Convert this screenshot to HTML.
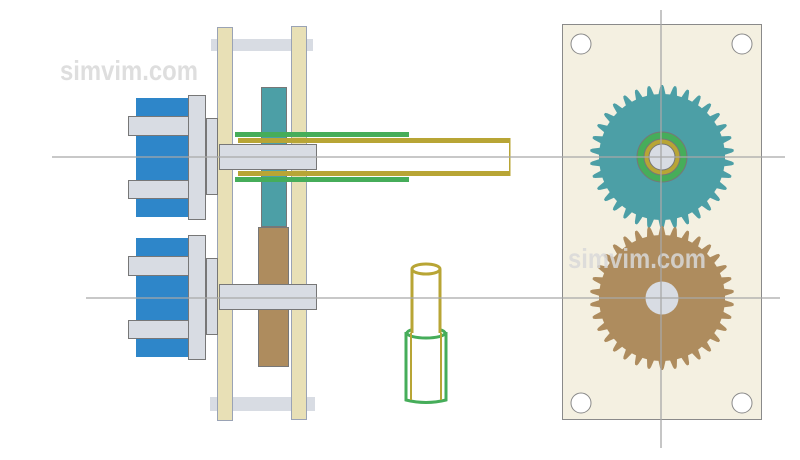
<!DOCTYPE html>
<html><head><meta charset="utf-8"><style>
html,body{margin:0;padding:0;background:#fff;width:800px;height:460px;overflow:hidden}
svg{display:block}
.wm{font-family:"Liberation Sans",sans-serif;font-weight:bold;font-size:28px;fill:#d9d9d9;opacity:.85}
</style></head><body>
<svg id="s" width="800" height="460" viewBox="0 0 800 460" xmlns="http://www.w3.org/2000/svg">
<rect x="562.5" y="24.5" width="199" height="395" fill="#f4f0e1" stroke="#8a8a8a"/>
<g fill="#fff" stroke="#8a8a8a">
<circle cx="581" cy="44" r="10"/><circle cx="742" cy="44" r="10"/>
<circle cx="581" cy="403" r="10"/><circle cx="742" cy="403" r="10"/>
</g>
<path id="g1" fill="#4c9fa6"/>
<path id="g2" fill="#ae8c5e"/>
<circle cx="662" cy="157" r="25" fill="#46ad5a" stroke="#777"/>
<circle cx="662" cy="157" r="18" fill="#b8a535" stroke="#777"/>
<circle cx="662" cy="157" r="13" fill="#d8dce3" stroke="#777"/>
<circle cx="662" cy="298" r="16.5" fill="#d8dce3"/>
<text class="wm" x="568" y="268" textLength="138" lengthAdjust="spacingAndGlyphs">simvim.com</text>

<text class="wm" x="60" y="80" textLength="138" lengthAdjust="spacingAndGlyphs">simvim.com</text>
<rect x="211" y="39" width="102" height="12" fill="#d8dce3"/>
<rect x="210" y="397" width="105" height="14" fill="#d8dce3"/>
<rect x="217.5" y="27.5" width="15" height="393" fill="#e8e0b6" stroke="#9aa3b5"/>
<rect x="291.5" y="26.5" width="15" height="393" fill="#e8e0b6" stroke="#9aa3b5"/>
<rect x="261.5" y="87.5" width="25" height="139" fill="#4c9fa6" stroke="#777"/>
<rect x="258.5" y="227.5" width="30" height="139" fill="#ae8c5e" stroke="#777"/>

<g id="m">
<rect x="136" y="98" width="52" height="119" fill="#2e86c9"/>
<rect x="128.5" y="116.5" width="60" height="19" fill="#d8dce3" stroke="#777"/>
<rect x="128.5" y="180.5" width="60" height="18" fill="#d8dce3" stroke="#777"/>
<rect x="188.5" y="95.5" width="17" height="124" fill="#d8dce3" stroke="#777"/>
<rect x="206.5" y="118.5" width="11" height="76" fill="#d8dce3" stroke="#777"/>
</g>
<use href="#m" y="140"/>

<rect x="235" y="132" width="174" height="5" fill="#46ad5a"/>
<rect x="235" y="177" width="174" height="5" fill="#46ad5a"/>
<rect x="238" y="138" width="272" height="5" fill="#b8a535"/>
<rect x="238" y="171" width="272" height="5" fill="#b8a535"/>
<rect x="509" y="138" width="1.5" height="38" fill="#b8a535"/>
<rect x="219.5" y="144.5" width="97" height="25" fill="#d8dce3" stroke="#777"/>
<rect x="219.5" y="284.5" width="97" height="25" fill="#d8dce3" stroke="#777"/>

<path d="M406 332 L406 400 Q426 405 446 400 L446 332" fill="#fff" stroke="#46ad5a" stroke-width="3"/>
<ellipse cx="426" cy="333" rx="19" ry="5" fill="none" stroke="#46ad5a" stroke-width="3"/>
<line x1="411" y1="333" x2="411" y2="400" stroke="#b8a535" stroke-width="2"/>
<line x1="441" y1="333" x2="441" y2="400" stroke="#b8a535" stroke-width="2"/>
<rect x="412" y="269" width="28" height="64" fill="#fff"/>
<line x1="412" y1="269" x2="412" y2="333" stroke="#b8a535" stroke-width="3"/>
<line x1="440" y1="269" x2="440" y2="333" stroke="#b8a535" stroke-width="3"/>
<ellipse cx="426" cy="269" rx="14" ry="5" fill="#fff" stroke="#b8a535" stroke-width="3"/>

<g stroke="#a8a8a8" stroke-width="1.3">
<line x1="52" y1="157" x2="785" y2="157"/>
<line x1="86" y1="298" x2="780" y2="298"/>
<line x1="661" y1="10" x2="661" y2="448"/>
</g>
</svg>
<script>
function gear(cx,cy,ro,ri,n){var d="",k=0,s=2*Math.PI/n;for(var i=0;i<n;i++){var a=i*s-Math.PI/2-s*0.4;
var pts=[[ri,a],[ri,a+s*0.1],[ro-2,a+s*0.25],[ro,a+s*0.33],[ro,a+s*0.47],[ro-2,a+s*0.55],[ri,a+s*0.7]];
pts.forEach(function(p){d+=(k++?"L":"M")+(cx+p[0]*Math.cos(p[1])).toFixed(1)+" "+(cy+p[0]*Math.sin(p[1])).toFixed(1)});}
return d+"Z";}
document.getElementById("g1").setAttribute("d",gear(662,157,72,63,34));
document.getElementById("g2").setAttribute("d",gear(662,298,72,63,34));
</script>
</body></html>
